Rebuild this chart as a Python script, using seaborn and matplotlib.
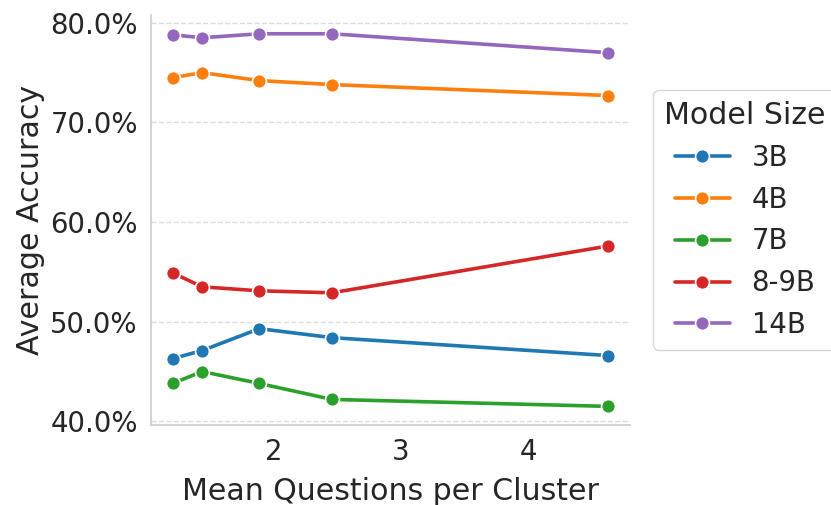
import numpy as np
import pandas as pd
import seaborn as sns
import matplotlib
matplotlib.use("Agg")
import matplotlib.pyplot as plt
from matplotlib.ticker import PercentFormatter

# Mean number of questions per cluster for each clustering setting
questions_per_cluster = [1.21, 1.44, 1.89, 2.46, 4.63]

# Average accuracy (%) by model size
acc_3b = [46.3, 47.1, 49.3, 48.4, 46.6]
acc_4b = [74.5, 75.0, 74.2, 73.8, 72.7]
acc_7b = [43.8, 45.0, 43.8, 42.2, 41.5]
acc_8_9b = [54.9, 53.5, 53.1, 52.9, 57.6]
acc_14b = [78.8, 78.5, 78.9, 78.9, 77.0]

model_sizes = ["3B", "4B", "7B", "8-9B", "14B"]
series = [acc_3b, acc_4b, acc_7b, acc_8_9b, acc_14b]

df = pd.DataFrame(
    [
        {"Model Size": size, "Mean Questions per Cluster": x, "Average Accuracy": y}
        for size, values in zip(model_sizes, series)
        for x, y in zip(questions_per_cluster, values)
    ]
)

sns.set_theme(style="whitegrid", context="notebook", font_scale=1.8)

fig = plt.figure(figsize=(8.31, 5.05), dpi=100)
ax = fig.add_axes([0.1817, 0.1584, 0.5764, 0.8116])

sns.lineplot(
    data=df,
    x="Mean Questions per Cluster",
    y="Average Accuracy",
    hue="Model Size",
    hue_order=model_sizes,
    palette="tab10",
    marker="o",
    markersize=10,
    linewidth=2.6,
    markeredgecolor="white",
    markeredgewidth=1.2,
    ax=ax,
)

ax.yaxis.set_major_formatter(PercentFormatter(decimals=1))
ax.set_yticks([40, 50, 60, 70, 80])
ax.set_xlabel("Mean Questions per Cluster", labelpad=8)
ax.grid(axis="x", visible=False)
ax.grid(axis="y", linestyle="--", color="#dddddd", linewidth=1.0)
sns.despine(ax=ax)
for side in ("left", "bottom"):
    ax.spines[side].set_color("#cccccc")
    ax.spines[side].set_linewidth(1.2)

ax.legend(
    title="Model Size",
    loc="center left",
    bbox_to_anchor=(1.02, 0.5),
    frameon=True,
)

fig.savefig("out.png", dpi=100)
